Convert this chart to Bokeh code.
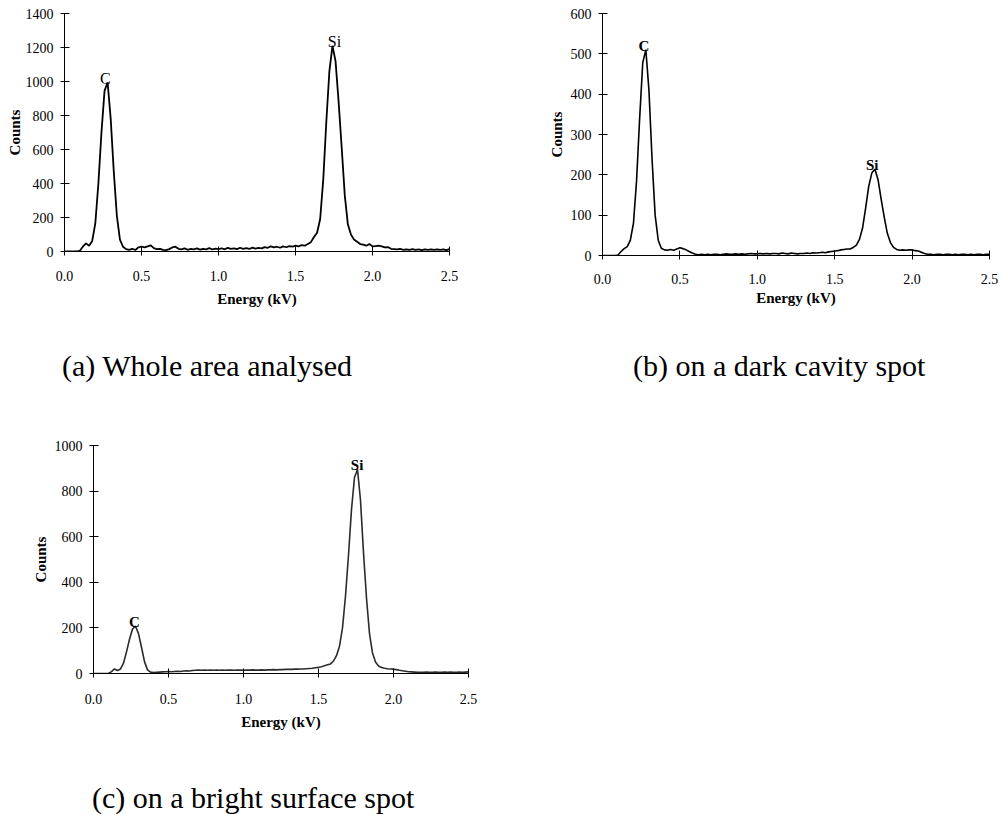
from bokeh.plotting import figure
from bokeh.layouts import column, row
from bokeh.models import Range1d, FixedTicker, NumeralTickFormatter, Div
from bokeh.core.properties import value
from bokeh.embed import file_html
from bokeh.resources import INLINE

# EDS spectra: channel energies (kV), 0.02 kV spacing from 0.0 to 2.5
energy = [round(i * 0.02, 2) for i in range(126)]

# (a) whole area analysed
counts_a = [
    0, 0, 0, 0, 0, 4, 30, 48, 34, 62,
    165, 400, 700, 945, 995, 780, 470, 210, 70, 28,
    14, 10, 16, 9, 24, 28, 24, 30, 36, 20,
    14, 16, 10, 8, 14, 24, 28, 16, 12, 18,
    10, 15, 12, 18, 11, 16, 13, 20, 12, 17,
    14, 19, 13, 21, 15, 18, 14, 22, 16, 20,
    15, 23, 17, 21, 18, 26, 22, 30, 24, 28,
    22, 30, 25, 32, 28, 34, 30, 38, 34, 44,
    55, 85, 110, 190, 420, 760, 1060, 1210, 1120, 880,
    610, 330, 160, 100, 70, 58, 44, 40, 34, 44,
    30, 32, 34, 30, 24, 26, 16, 14, 12, 15,
    10, 13, 9, 14, 10, 12, 8, 13, 10, 12,
    9, 13, 10, 12, 8, 14,
]

# (b) dark cavity spot
counts_b = [
    0, 0, 0, 0, 0, 1, 10, 17, 22, 38,
    80, 185, 340, 478, 510, 410, 240, 100, 38, 18,
    14, 13, 15, 13, 16, 19, 17, 14, 10, 6,
    3, 2, 3, 2, 3, 2, 3, 3, 2, 3,
    4, 3, 3, 4, 3, 4, 3, 4, 5, 4,
    4, 5, 4, 5, 4, 5, 5, 4, 6, 5,
    4, 6, 5, 4, 5, 5, 6, 5, 7, 6,
    7, 8, 7, 9, 10, 11, 12, 14, 15, 16,
    16, 20, 26, 40, 68, 118, 172, 205, 214, 188,
    140, 95, 55, 32, 20, 15, 13, 14, 13, 14,
    14, 12, 11, 8, 5, 3, 3, 2, 3, 3,
    2, 3, 3, 2, 3, 2, 3, 3, 2, 3,
    2, 3, 3, 2, 3, 3,
]

# (c) bright surface spot
counts_c = [
    0, 0, 0, 0, 0, 0, 8, 20, 13, 20,
    45, 95, 150, 195, 208, 175, 115, 52, 16, 6,
    4, 5, 6, 7, 8, 9, 8, 9, 10, 9,
    11, 12, 11, 13, 14, 15, 14, 15, 14, 15,
    14, 15, 14, 15, 14, 15, 15, 14, 15, 15,
    14, 15, 15, 16, 15, 15, 16, 15, 16, 16,
    17, 16, 17, 17, 18, 18, 18, 19, 19, 20,
    20, 21, 22, 23, 25, 27, 30, 34, 38, 42,
    55, 78, 120, 200, 340, 520, 720, 860, 895, 760,
    530, 330, 175, 90, 50, 33, 26, 23, 21, 20,
    19, 17, 14, 12, 10, 8, 7, 6, 5, 5,
    5, 6, 5, 5, 6, 5, 5, 6, 5, 6,
    5, 5, 6, 5, 6, 7,
]

# Peak identifications
peak_names = ["C", "Si"]
peak_energy_a = [0.265, 1.753]
peak_energy_b = [0.267, 1.742]
peak_energy_c = [0.273, 1.757]

x_ticks = [0.0, 0.5, 1.0, 1.5, 2.0, 2.5]
y_ticks_a = [0, 200, 400, 600, 800, 1000, 1200, 1400]
y_ticks_b = [0, 100, 200, 300, 400, 500, 600]
y_ticks_c = [0, 200, 400, 600, 800, 1000]

SERIF = "Liberation Serif"


def peak_heights(counts, energies):
    # local maximum of the spectrum around each labelled energy
    out = []
    for e in energies:
        near = [c for x, c in zip(energy, counts) if abs(x - e) <= 0.05]
        out.append(max(near))
    return out


def spectrum_panel(counts, y_max, y_ticks, peak_e, frame_w, frame_h,
                   left, right, top, bottom, line_color, line_width,
                   peak_style, peak_size, xtick_standoff, xlabel_standoff,
                   ylabel_standoff):
    p = figure(frame_width=frame_w, frame_height=frame_h,
               output_backend="svg", toolbar_location=None,
               x_range=Range1d(0, 2.5), y_range=Range1d(0, y_max),
               min_border_left=left, min_border_right=right,
               min_border_top=top, min_border_bottom=bottom)
    p.outline_line_color = None
    p.xgrid.visible = False
    p.ygrid.visible = False
    p.background_fill_color = "white"
    p.border_fill_color = "white"

    p.line(energy, counts, line_color=line_color, line_width=line_width)

    heights = peak_heights(counts, peak_e)
    p.text(x=peak_e, y=heights, text=peak_names, text_align="center",
           text_baseline="alphabetic", y_offset=-4,
           text_font=value(SERIF), text_font_size=peak_size,
           text_font_style=peak_style, text_color="black")

    p.xaxis.ticker = FixedTicker(ticks=x_ticks)
    p.xaxis.formatter = NumeralTickFormatter(format="0.0")
    p.yaxis.ticker = FixedTicker(ticks=y_ticks)
    p.xaxis.axis_label = "Energy (kV)"
    p.yaxis.axis_label = "Counts"
    for ax in (p.xaxis, p.yaxis):
        ax.axis_line_color = "black"
        ax.axis_line_width = 1
        ax.major_tick_line_color = "black"
        ax.major_tick_in = 5
        ax.major_tick_out = 4
        ax.minor_tick_line_color = None
        ax.major_label_text_font = SERIF
        ax.major_label_text_font_size = "14px"
        ax.major_label_text_color = "black"
        ax.axis_label_text_font = SERIF
        ax.axis_label_text_font_size = "15px"
        ax.axis_label_text_font_style = "bold"
        ax.axis_label_text_color = "black"
    p.xaxis.major_label_standoff = xtick_standoff
    p.xaxis.axis_label_standoff = xlabel_standoff
    p.yaxis.major_label_standoff = 7
    p.yaxis.axis_label_standoff = ylabel_standoff
    return p


pa = spectrum_panel(counts_a, 1400, y_ticks_a, peak_energy_a,
                    frame_w=385, frame_h=238, left=64, right=71, top=13, bottom=69,
                    line_color="black", line_width=1.8,
                    peak_style="normal", peak_size="16px",
                    xtick_standoff=15, xlabel_standoff=7, ylabel_standoff=0)
pb = spectrum_panel(counts_b, 600, y_ticks_b, peak_energy_b,
                    frame_w=387, frame_h=242, left=82, right=12, top=13, bottom=65,
                    line_color="black", line_width=1.6,
                    peak_style="bold", peak_size="15px",
                    xtick_standoff=14, xlabel_standoff=3, ylabel_standoff=3)
pc = spectrum_panel(counts_c, 1000, y_ticks_c, peak_energy_c,
                    frame_w=375, frame_h=228, left=93, right=52, top=25, bottom=77,
                    line_color="#2b2b2b", line_width=1.6,
                    peak_style="bold", peak_size="15px",
                    xtick_standoff=16, xlabel_standoff=7, ylabel_standoff=3)


def caption(text, width, height, pad_top, pad_left):
    html = (f'<div style="padding:{pad_top}px 0 0 {pad_left}px; '
            f'font-family:\'{SERIF}\'; font-size:30px; line-height:30px; '
            f'white-space:nowrap; color:#000;">{text}</div>')
    return Div(text=html, width=width, height=height, margin=0)


cap_a = caption("(a) Whole area analysed", 520, 100, 31, 62)
cap_b = caption("(b) on a dark cavity spot", 481, 100, 31, 113)
cap_c = caption("(c) on a bright surface spot", 1001, 65, 33, 92)

layout = column(row(pa, pb, spacing=0), row(cap_a, cap_b, spacing=0),
                pc, cap_c, spacing=0)

open("out.html", "w").write(file_html(layout, INLINE))
